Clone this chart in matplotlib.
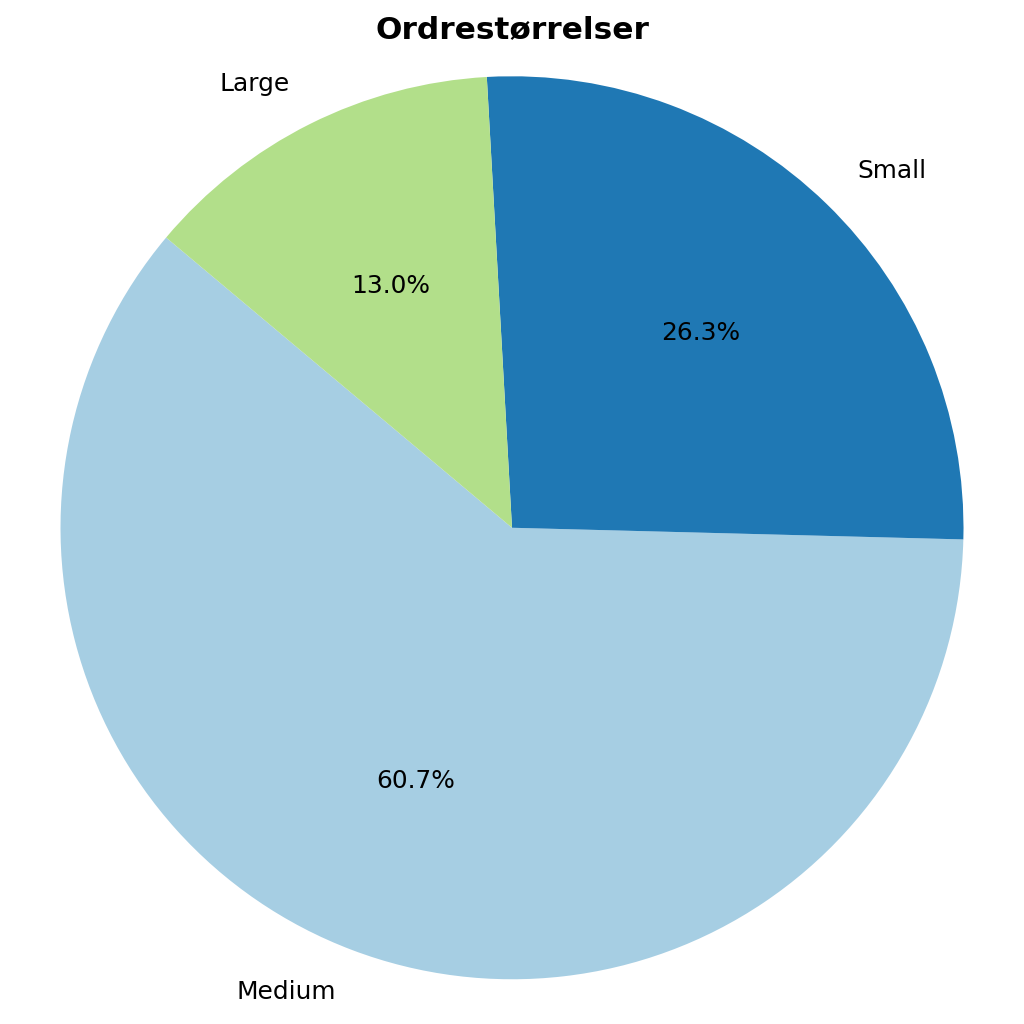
import matplotlib.pyplot as plt

# order sizes
labels = ["Medium", "Small", "Large"]
shares = [60.7, 26.3, 13.0]
colors = [plt.cm.Paired(0), plt.cm.Paired(1), plt.cm.Paired(2)]

fig, ax = plt.subplots(figsize=(10, 10), dpi=102.4)
ax.pie(shares, labels=labels, colors=colors, autopct="%1.1f%%",
       startangle=140, textprops={"fontsize": 17.5})
ax.set_title("Ordrestørrelser", fontsize=22, fontweight="bold")
ax.axis("equal")
plt.tight_layout()
plt.savefig("out.png")
